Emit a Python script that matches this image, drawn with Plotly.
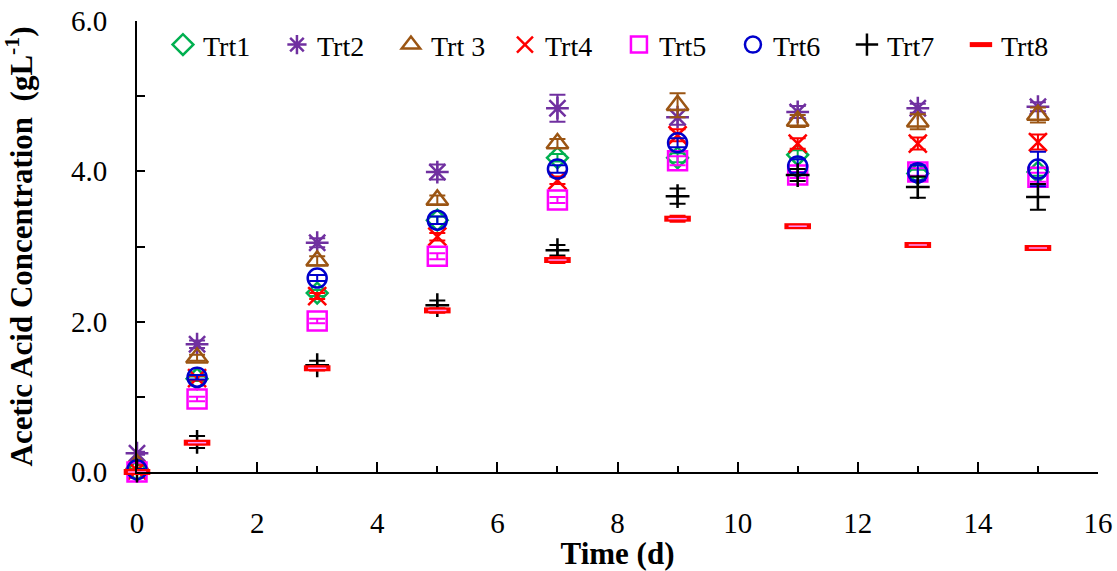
import plotly.graph_objects as go

# Sampling days
days = [0, 1, 3, 5, 7, 9, 11, 13, 15]

# Mean acetic acid concentration (g/L) per treatment
trt1 = [0.02, 1.24, 2.38, 3.35, 4.18, 4.18, 4.22, 3.97, 3.99]
trt2 = [0.25, 1.70, 3.05, 3.99, 4.84, 4.72, 4.79, 4.84, 4.86]
trt3 = [0.10, 1.52, 2.81, 3.62, 4.37, 4.88, 4.67, 4.66, 4.75]
trt4 = [0.02, 1.25, 2.34, 3.13, 3.88, 4.48, 4.37, 4.37, 4.39]
trt5 = [0.00, 0.97, 2.01, 2.87, 3.62, 4.14, 3.95, 3.99, 3.92]
trt6 = [0.03, 1.26, 2.58, 3.35, 4.03, 4.38, 4.07, 3.98, 4.03]
trt7 = [0.02, 0.40, 1.42, 2.22, 2.95, 3.67, 3.95, 3.79, 3.66]
trt8 = [0.00, 0.39, 1.38, 2.15, 2.82, 3.37, 3.27, 3.02, 2.98]

# Standard deviations
err1 = [0.01, 0.03, 0.04, 0.05, 0.05, 0.06, 0.06, 0.05, 0.05]
err2 = [0.02, 0.05, 0.06, 0.10, 0.18, 0.10, 0.08, 0.06, 0.06]
err3 = [0.01, 0.04, 0.06, 0.06, 0.06, 0.16, 0.08, 0.10, 0.10]
err4 = [0.01, 0.03, 0.04, 0.05, 0.05, 0.08, 0.07, 0.08, 0.10]
err5 = [0.01, 0.03, 0.03, 0.04, 0.04, 0.06, 0.04, 0.05, 0.06]
err6 = [0.01, 0.03, 0.04, 0.05, 0.05, 0.06, 0.09, 0.10, 0.23]
err7 = [0.01, 0.08, 0.06, 0.06, 0.07, 0.10, 0.08, 0.14, 0.17]
err8 = [0.01, 0.02, 0.03, 0.03, 0.04, 0.04, 0.02, 0.02, 0.02]

names = ["Trt1", "Trt2", "Trt 3", "Trt4", "Trt5", "Trt6", "Trt7", "Trt8"]
means = [trt1, trt2, trt3, trt4, trt5, trt6, trt7, trt8]
errors = [err1, err2, err3, err4, err5, err6, err7, err8]

styles = [
    dict(symbol="diamond-open", color="#00B050", size=16),
    dict(symbol="asterisk-open", color="#7030A0", size=19),
    dict(symbol="triangle-up-open", color="#9B5513", size=19),
    dict(symbol="x-thin-open", color="#FF0000", size=18),
    dict(symbol="square-open", color="#FF00FF", size=19),
    dict(symbol="circle-open", color="#0000CC", size=19),
    dict(symbol="cross-thin-open", color="#000000", size=17),
    dict(symbol="line-ew-open", color="#FF0000", size=19),
]

fig = go.Figure()
for name, y, e, st in zip(names, means, errors, styles):
    lw = 6 if st["symbol"].startswith("line-ew") else 2.5
    fig.add_trace(go.Scatter(
        x=days, y=y, name=name, mode="markers", cliponaxis=False,
        marker=dict(symbol=st["symbol"], size=st["size"],
                    color=st["color"], line=dict(color=st["color"], width=lw)),
        error_y=dict(type="data", array=e, visible=True,
                     color=st["color"], thickness=2, width=8),
    ))

# white core of the dash markers
fig.add_trace(go.Scatter(
    x=days, y=trt8, mode="markers", showlegend=False, hoverinfo="skip",
    cliponaxis=False,
    marker=dict(symbol="line-ew-open", size=13,
                line=dict(color="white", width=1.5)),
))

serif = "Liberation Serif, Times New Roman, serif"

fig.update_layout(
    width=1117, height=571,
    margin=dict(l=137, r=19, t=21, b=99),
    plot_bgcolor="white", paper_bgcolor="white",
    font=dict(family=serif, size=29, color="black"),
    showlegend=True,
    legend=dict(
        orientation="h", x=0.027, y=0.947, xanchor="left", yanchor="middle",
        font=dict(family=serif, size=28, color="black"),
        entrywidth=69, entrywidthmode="pixels",
        bgcolor="rgba(0,0,0,0)", itemclick=False,
    ),
    xaxis=dict(
        range=[0, 16], dtick=2, tick0=0, automargin=False,
        showgrid=False, zeroline=False,
        showline=True, linecolor="black", linewidth=2,
        ticks="inside", ticklen=10, tickwidth=1.5, tickcolor="black",
        minor=dict(dtick=1, ticks="inside", ticklen=6, tickwidth=1.5,
                   tickcolor="black"),
        ticklabelstandoff=24,
        tickfont=dict(family=serif, size=29),
        title=dict(text="<b>Time (d)</b>", standoff=4,
                   font=dict(family=serif, size=31)),
    ),
    yaxis=dict(
        range=[0, 6], dtick=2, tick0=0, tickformat=".1f", automargin=False,
        showgrid=False, zeroline=False,
        showline=True, linecolor="black", linewidth=2,
        ticks="inside", ticklen=8, tickwidth=1.5, tickcolor="black",
        minor=dict(dtick=1, ticks="inside", ticklen=8, tickwidth=1.5,
                   tickcolor="black"),
        ticklabelstandoff=22,
        tickfont=dict(family=serif, size=29),
        title=dict(text="<b>Acetic Acid Concentration  (gL<sup>-1</sup>)</b>",
                   standoff=30, font=dict(family=serif, size=31)),
    ),
)

fig.write_html("out.html")
